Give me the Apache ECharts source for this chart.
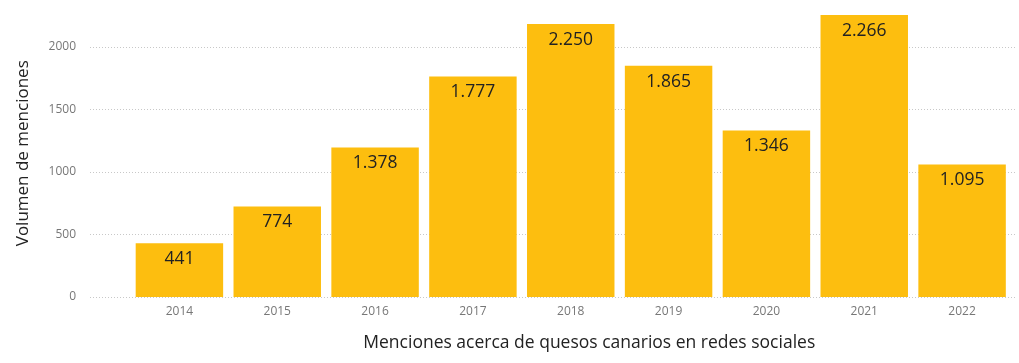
<!DOCTYPE html>
<html>
<head>
<meta charset="utf-8">
<script src="https://cdn.jsdelivr.net/npm/echarts@6/dist/echarts.min.js"></script>
<style>
html,body{margin:0;padding:0;background:#fff;}
#chart{width:1019px;height:363px;}
</style>
</head>
<body>
<div id="chart"></div>
<script>
var categories = ["2014","2015","2016","2017","2018","2019","2020","2021","2022"];
var barHeights = [430, 725, 1197, 1765, 2184, 1851, 1333, 2256, 1061];
var labelValues = [441, 774, 1378, 1777, 2250, 1865, 1346, 2266, 1095];
var yTicks = [0, 500, 1000, 1500, 2000];
var xTitle = "Menciones acerca de quesos canarios en redes sociales";
var yTitle = "Volumen de menciones";

function fmt(v){ return String(v).replace(/\B(?=(\d{3})+(?!\d))/g, "."); }

var FONT = "'Segoe UI', 'Open Sans', sans-serif";
var chart = echarts.init(document.getElementById('chart'), null, {renderer:'canvas'});
var yCommon = {
  type: 'value', min: yTicks[0], max: 2300, interval: yTicks[1] - yTicks[0]
};
chart.setOption({
  animation: false,
  grid: [
    {left: 130.5, right: 8, top: 9.5, bottom: 66, containLabel: false},
    {left: 90, right: 4, top: 9.5, bottom: 66, containLabel: false}
  ],
  xAxis: [
    {
      type: 'category', gridIndex: 0, data: categories,
      axisLine: {show: false}, axisTick: {show: false},
      axisLabel: {color: '#777', fontSize: 12, fontFamily: FONT, margin: 9},
      name: xTitle, nameLocation: 'middle', nameGap: 37,
      nameTextStyle: {color: '#222', fontSize: 17.5, fontFamily: FONT, padding: [0,0,0,37]}
    },
    {type: 'value', gridIndex: 1, min: 0, max: 1, show: false}
  ],
  yAxis: [
    Object.assign({gridIndex: 0, show: false}, yCommon),
    Object.assign({
      gridIndex: 1,
      axisLine: {show: false}, axisTick: {show: false},
      axisLabel: {color: '#777', fontSize: 12, fontFamily: FONT, margin: 14, showMaxLabel: false,
        formatter: function(v){ return yTicks.indexOf(v) >= 0 ? String(v) : ''; }},
      splitLine: {show: true, showMaxLine: false, lineStyle: {color: '#c8c8c8', type: [1,2], width: 1}},
      name: yTitle, nameLocation: 'middle', nameGap: 58,
      nameTextStyle: {color: '#222', fontSize: 17, fontFamily: FONT}
    }, yCommon)
  ],
  series: [{
    type: 'bar', xAxisIndex: 0, yAxisIndex: 0,
    data: barHeights,
    barCategoryGap: '10.6%',
    itemStyle: {color: '#FDBE0F'},
    label: {
      show: true, position: 'insideTop', distance: 7,
      color: '#222', fontSize: 17.5, fontFamily: FONT,
      formatter: function(p){ return fmt(labelValues[p.dataIndex]); }
    }
  }]
});
</script>
</body>
</html>
